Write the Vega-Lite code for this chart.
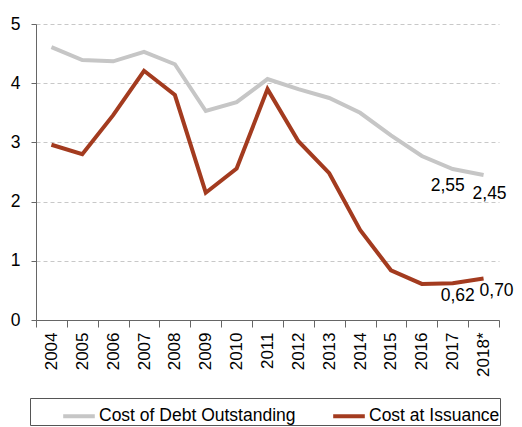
{
  "$schema": "https://vega.github.io/schema/vega-lite/v6.json",
  "autosize": "none",
  "width": 463,
  "height": 296,
  "padding": {"left": 36, "top": 24, "right": 23, "bottom": 107},
  "background": "white",
  "config": {
    "locale": {"number": {"decimal": ",", "thousands": ".", "grouping": [3], "currency": ["", " €"]}},
    "view": {"stroke": null},
    "font": "Liberation Sans",
    "axis": {"labelFont": "Liberation Sans", "labelColor": "#000", "domainColor": "#666", "tickColor": "#666"}
  },
  "data": {
    "values": [
      {"year": "2004", "series": "Cost of Debt Outstanding", "value": 4.61},
      {"year": "2005", "series": "Cost of Debt Outstanding", "value": 4.39},
      {"year": "2006", "series": "Cost of Debt Outstanding", "value": 4.37},
      {"year": "2007", "series": "Cost of Debt Outstanding", "value": 4.53},
      {"year": "2008", "series": "Cost of Debt Outstanding", "value": 4.32},
      {"year": "2009", "series": "Cost of Debt Outstanding", "value": 3.53},
      {"year": "2010", "series": "Cost of Debt Outstanding", "value": 3.68},
      {"year": "2011", "series": "Cost of Debt Outstanding", "value": 4.07},
      {"year": "2012", "series": "Cost of Debt Outstanding", "value": 3.9},
      {"year": "2013", "series": "Cost of Debt Outstanding", "value": 3.75},
      {"year": "2014", "series": "Cost of Debt Outstanding", "value": 3.5},
      {"year": "2015", "series": "Cost of Debt Outstanding", "value": 3.12},
      {"year": "2016", "series": "Cost of Debt Outstanding", "value": 2.77},
      {"year": "2017", "series": "Cost of Debt Outstanding", "value": 2.55},
      {"year": "2018*", "series": "Cost of Debt Outstanding", "value": 2.45},
      {"year": "2004", "series": "Cost at Issuance", "value": 2.96},
      {"year": "2005", "series": "Cost at Issuance", "value": 2.8},
      {"year": "2006", "series": "Cost at Issuance", "value": 3.46},
      {"year": "2007", "series": "Cost at Issuance", "value": 4.21},
      {"year": "2008", "series": "Cost at Issuance", "value": 3.8},
      {"year": "2009", "series": "Cost at Issuance", "value": 2.15},
      {"year": "2010", "series": "Cost at Issuance", "value": 2.56},
      {"year": "2011", "series": "Cost at Issuance", "value": 3.9},
      {"year": "2012", "series": "Cost at Issuance", "value": 3.02},
      {"year": "2013", "series": "Cost at Issuance", "value": 2.48},
      {"year": "2014", "series": "Cost at Issuance", "value": 1.52},
      {"year": "2015", "series": "Cost at Issuance", "value": 0.84},
      {"year": "2016", "series": "Cost at Issuance", "value": 0.61},
      {"year": "2017", "series": "Cost at Issuance", "value": 0.62},
      {"year": "2018*", "series": "Cost at Issuance", "value": 0.7}
    ]
  },
  "encoding": {
    "x": {
      "field": "year", "type": "ordinal", "bandPosition": 0.5,
      "scale": {"type": "band", "paddingInner": 0, "paddingOuter": 0},
      "axis": {"title": null, "labelAngle": -90, "labelFontSize": 17, "tickBand": "extent", "tickSize": 7, "labelPadding": 5, "domainColor": "#666"}
    },
    "y": {
      "field": "value", "type": "quantitative",
      "scale": {"domain": [0, 5], "nice": false},
      "axis": {"title": null, "values": [0, 1, 2, 3, 4, 5], "format": "d", "labelFontSize": 17.5, "tickSize": 5, "labelPadding": 11, "gridColor": "#c8c8c8", "gridDash": [4, 3], "gridWidth": 1}
    }
  },
  "layer": [
    {
      "mark": {"type": "line", "strokeWidth": 4},
      "encoding": {
        "color": {
          "field": "series", "type": "nominal",
          "scale": {"domain": ["Cost of Debt Outstanding", "Cost at Issuance"], "range": ["#c6c6c6", "#a33b1f"]},
          "legend": {
            "title": null, "orient": "none", "direction": "horizontal",
            "legendX": -6, "legendY": 374,
            "strokeColor": "#555", "padding": 0, "symbolOffset": 31,
            "symbolType": "stroke", "symbolSize": 1000, "symbolStrokeWidth": 4,
            "labelFontSize": 17.5, "labelFont": "Liberation Sans", "labelColor": "#000", "labelOffset": 2, "labelLimit": 400, "columnPadding": 4
          }
        }
      }
    },
    {
      "transform": [{"filter": "datum.series == 'Cost of Debt Outstanding' && datum.year == '2017'"}],
      "mark": {"type": "text", "fontSize": 17.5, "dx": -5, "dy": 17, "color": "#000"},
      "encoding": {"text": {"field": "value", "type": "quantitative", "format": ".2f"}}
    },
    {
      "transform": [{"filter": "datum.series == 'Cost of Debt Outstanding' && datum.year == '2018*'"}],
      "mark": {"type": "text", "fontSize": 17.5, "dx": 6, "dy": 19, "color": "#000"},
      "encoding": {"text": {"field": "value", "type": "quantitative", "format": ".2f"}}
    },
    {
      "transform": [{"filter": "datum.series == 'Cost at Issuance' && datum.year == '2017'"}],
      "mark": {"type": "text", "fontSize": 17.5, "dx": 5, "dy": 13, "color": "#000"},
      "encoding": {"text": {"field": "value", "type": "quantitative", "format": ".2f"}}
    },
    {
      "transform": [{"filter": "datum.series == 'Cost at Issuance' && datum.year == '2018*'"}],
      "mark": {"type": "text", "fontSize": 17.5, "dx": 13, "dy": 12, "color": "#000"},
      "encoding": {"text": {"field": "value", "type": "quantitative", "format": ".2f"}}
    }
  ]
}
